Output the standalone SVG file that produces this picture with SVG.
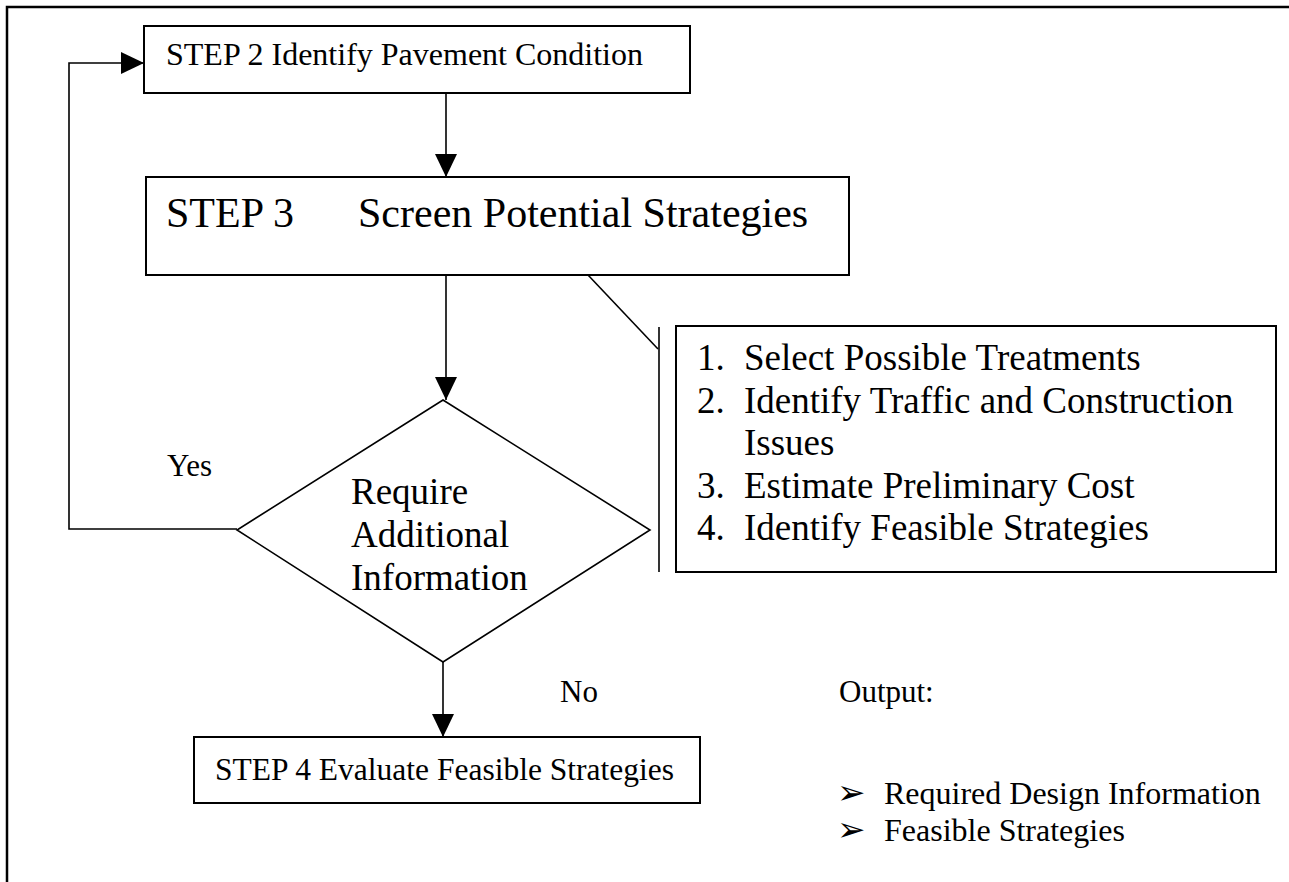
<svg xmlns="http://www.w3.org/2000/svg" width="1289" height="882" viewBox="0 0 1289 882">
<defs>
<style>
.box{fill:#fff;stroke:#000;stroke-width:2}
.ln{fill:none;stroke:#000;stroke-width:1.6}
.t{font-family:"Liberation Serif","Times New Roman",serif;fill:#000}
.bul{font-family:"DejaVu Sans",sans-serif;fill:#000}
</style>
<marker id="ah" markerUnits="userSpaceOnUse" markerWidth="24" markerHeight="22" viewBox="0 0 24 22" refX="23" refY="11" orient="auto">
<path d="M0,0 L23,11 L0,22 Z" fill="#000"/>
</marker>
</defs>
<rect width="1289" height="882" fill="#fff"/>
<g id="frame">
<path d="M7,882 L7,7 L1289,7" fill="none" stroke="#000" stroke-width="2.5"/>
</g>
<g id="connectors">
<path class="ln" d="M446,93 L446,177" marker-end="url(#ah)"/>
<path class="ln" d="M446,275 L446,400" marker-end="url(#ah)"/>
<path class="ln" d="M443,662 L443,737" marker-end="url(#ah)"/>
<path class="ln" d="M237,529 L69,529 L69,63 L144,63" marker-end="url(#ah)"/>
<path class="ln" d="M588,275 L658,349"/>
<path class="ln" d="M659,327 L659,572"/>
</g>
<g id="step2">
<rect class="box" x="144" y="26" width="546" height="67"/>
<text class="t" x="166" y="65" font-size="32">STEP 2 Identify Pavement Condition</text>
</g>
<g id="step3">
<rect class="box" x="146" y="177" width="703" height="98"/>
<text class="t" x="166" y="227" font-size="42">STEP 3</text>
<text class="t" x="358" y="227" font-size="42">Screen Potential Strategies</text>
</g>
<g id="list">
<rect class="box" x="676" y="326" width="600" height="246"/>
<g class="t" font-size="37">
<text x="697" y="370">1.</text><text x="744" y="370">Select Possible Treatments</text>
<text x="697" y="412.5">2.</text><text x="744" y="412.5">Identify Traffic and Construction</text>
<text x="744" y="455">Issues</text>
<text x="697" y="497.5">3.</text><text x="744" y="497.5">Estimate Preliminary Cost</text>
<text x="697" y="540">4.</text><text x="744" y="540">Identify Feasible Strategies</text>
</g>
</g>
<g id="decision">
<polygon points="443,400 650,530 443,662 237,530" fill="#fff" stroke="#000" stroke-width="1.6"/>
<g class="t" font-size="37">
<text x="351" y="504">Require</text>
<text x="351" y="547">Additional</text>
<text x="351" y="590">Information</text>
</g>
</g>
<g id="labels" class="t" font-size="31">
<text x="167" y="476">Yes</text>
<text x="560" y="702">No</text>
</g>
<g id="step4">
<rect class="box" x="194" y="737" width="506" height="66"/>
<text class="t" x="215" y="780" font-size="31.5">STEP 4 Evaluate Feasible Strategies</text>
</g>
<g id="output">
<text class="t" x="839" y="702" font-size="31">Output:</text>
<text class="bul" x="837" y="804" font-size="34">➢</text>
<text class="t" x="884" y="804" font-size="32">Required Design Information</text>
<text class="bul" x="837" y="841" font-size="34">➢</text>
<text class="t" x="884" y="841" font-size="32">Feasible Strategies</text>
</g>
</svg>
